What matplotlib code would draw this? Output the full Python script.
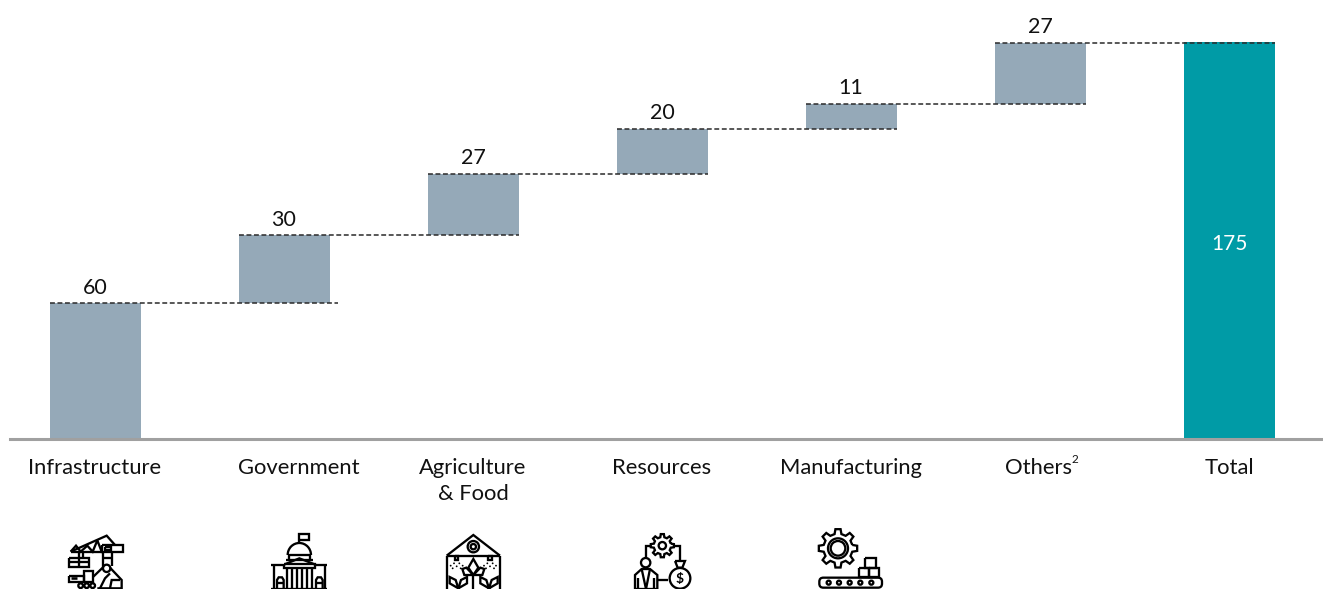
import numpy as np
import matplotlib
matplotlib.use("Agg")
import matplotlib.pyplot as plt
from matplotlib.patches import Circle, FancyBboxPatch, Arc
from matplotlib.transforms import ScaledTranslation

plt.rcParams['font.family'] = ['Lato', 'DejaVu Sans']

categories = ["Infrastructure", "Government", "Agriculture\n& Food", "Resources",
              "Manufacturing", "Others", "Total"]
increments = [60, 30, 27, 20, 11, 27]
total = [175]
label_shift_px = [0, 15, 0, 0, 0, -2, 0]

GREY = "#95a9b8"
TEAL = "#009ba6"
INK = "#111111"
W, H = 1323, 589
PX = 72 / 100

fig = plt.figure(figsize=(W / 100, H / 100), dpi=100, facecolor="white")
ax = fig.add_axes([10 / W, (H - 439) / H, (W - 10) / W, 439 / H])
ax.set_xlim((10 - 95) / 189, (W - 95) / 189)
ax.set_ylim(0, 439 / 2.265)

x = np.arange(len(categories))
tops = np.cumsum(increments)
bottoms = tops - np.array(increments)
bar_w = 91 / 189

ax.bar(x[:-1], increments, bottom=bottoms, width=bar_w, color=GREY, linewidth=0, zorder=2)
ax.bar(x[-1], total, width=bar_w - 2 / 189, color=TEAL, edgecolor=TEAL, linewidth=2 * PX, zorder=2)

# dashed connectors, from the left of one bar to the right of the next
for i, level in enumerate(tops):
    extra = 8 / 189 if i == 0 else 0
    ax.plot([x[i] - bar_w / 2, x[i + 1] + bar_w / 2 + extra], [level, level],
            color="#2a2a2a", lw=1.1, dashes=(3.2, 1.7), zorder=3)

for xi, top, val in zip(x[:-1], tops, increments):
    ax.annotate(str(val), (xi, top), xytext=(0, 4), textcoords="offset points",
                ha="center", va="bottom", fontsize=15.5, color=INK)
ax.annotate(str(total[0]), (x[-1], total[0] * 0.5), xytext=(0, -2), textcoords="offset points",
            ha="center", va="center", fontsize=15, color="white", zorder=4)

for s in ("top", "left", "right"):
    ax.spines[s].set_visible(False)
ax.spines["bottom"].set_color("#a0a0a0")
ax.spines["bottom"].set_linewidth(2.2)
ax.set_yticks([])
ax.set_xticks(x)
ax.set_xticklabels(categories, fontsize=15.8, color=INK, linespacing=1.42)
ax.tick_params(axis="x", length=0, pad=13.5)
for lab, shift in zip(ax.get_xticklabels(), label_shift_px):
    lab.set_transform(lab.get_transform() + ScaledTranslation(shift / 100, 0, fig.dpi_scale_trans))

# ---- pictograms (decoration), pixel overlay ----
ov = fig.add_axes([0, 0, 1, 1], facecolor="none")
ov.set_xlim(0, W)
ov.set_ylim(H, 0)
ov.axis("off")
ov.text(1072, 465, "2", fontsize=8.5, color=INK, ha="left", va="bottom")
LW = 2.3 * PX


def pl(o, pts, lw=LW, close=False):
    a = np.array(pts, float) / 3 + o
    if close:
        a = np.vstack([a, a[0]])
    ov.plot(a[:, 0], a[:, 1], color="black", lw=lw, solid_joinstyle="miter", solid_capstyle="butt")


def box(o, x0, y0, x1, y1, lw=LW):
    pl(o, [(x0, y0), (x1, y0), (x1, y1), (x0, y1)], lw=lw, close=True)


def circ(o, cx, cy, r, lw=LW):
    ov.add_patch(Circle((o[0] + cx / 3, o[1] + cy / 3), r / 3, fill=False, ec="black", lw=lw))


def gear(o, cx, cy, r0, r1, n=8, lw=LW):
    pts = []
    d = 2 * np.pi / n
    for k in range(n):
        c = d * k
        for frac, r in ((-0.30, r0), (-0.17, r1), (0.17, r1), (0.30, r0)):
            a = c + frac * d
            pts.append((cx + r * np.cos(a), cy + r * np.sin(a)))
    pl(o, pts, lw=lw, close=True)


# crane / excavator
o = np.array([60, 525])
pl(o, [(32, 80), (140, 32), (165, 60)])
pl(o, [(32, 80), (125, 80)])
pl(o, [(32, 80), (48, 62), (62, 80), (82, 62), (98, 80), (112, 46), (125, 80)])
box(o, 125, 60, 188, 82)
box(o, 135, 66, 152, 76)
pl(o, [(128, 82), (128, 125)])
pl(o, [(155, 82), (155, 122)])
pl(o, [(128, 100), (155, 100)])
pl(o, [(56, 82), (56, 100)])
pl(o, [(68, 82), (68, 100)])
box(o, 28, 100, 88, 125)
pl(o, [(28, 112), (88, 112)])
pl(o, [(58, 100), (58, 125)])
box(o, 28, 152, 72, 172)
pl(o, [(72, 172), (72, 138), (100, 138), (100, 172), (72, 172)])
pl(o, [(34, 160), (52, 160)], lw=2.6 * PX)
for c in (62, 80, 98):
    circ(o, c, 182, 7)
pl(o, [(100, 155), (128, 128)])
pl(o, [(150, 128), (185, 165), (185, 190), (112, 190)])
circ(o, 140, 130, 11)
pl(o, [(120, 190), (135, 160), (150, 145)])
pl(o, [(150, 190), (155, 165), (180, 165)])

# government building
o = np.array([262, 525])
pl(o, [(112, 55), (112, 28), (140, 28), (140, 45), (112, 45)])
ov.add_patch(Arc(o + np.array([112, 90]) / 3, 70 / 3, 72 / 3, theta1=180, theta2=360, ec="black", lw=LW))
pl(o, [(77, 90), (147, 90)])
pl(o, [(80, 90), (80, 103)])
pl(o, [(145, 90), (145, 103)])
pl(o, [(68, 118), (112, 100), (158, 118)])
pl(o, [(72, 104), (152, 104)])
pl(o, [(66, 118), (160, 118), (160, 130), (66, 130)], close=True)
for c in (75, 90, 105, 120, 135, 150):
    pl(o, [(c, 130), (c, 190)])
pl(o, [(28, 120), (66, 120)])
pl(o, [(160, 120), (196, 120)])
pl(o, [(35, 120), (35, 192)])
pl(o, [(190, 120), (190, 192)])
pl(o, [(28, 192), (196, 192)])
for c in (55, 172):
    pl(o, [(c - 10, 192), (c - 10, 165), (c - 5, 157), (c + 5, 157), (c + 10, 165), (c + 10, 192)])
    pl(o, [(c - 10, 175), (c + 10, 175)])

# greenhouse
o = np.array([435, 525])
pl(o, [(35, 92), (115, 30), (195, 92)])
pl(o, [(35, 92), (195, 92)])
pl(o, [(35, 92), (35, 195)])
pl(o, [(195, 92), (195, 195)])
circ(o, 115, 65, 17)
circ(o, 115, 65, 8)
for c in (65, 165):
    box(o, c - 5, 92, c + 5, 106)
    for dx, dy in ((-18, 122), (-8, 115), (8, 115), (18, 122), (0, 124), (-12, 130), (12, 130)):
        ov.add_patch(Circle(o + np.array([c + dx, dy]) / 3, 0.9, color="black", lw=0))
pl(o, [(115, 150), (115, 195)])
pl(o, [(115, 150), (100, 128), (115, 102), (130, 128), (115, 150)])
pl(o, [(115, 150), (94, 128), (82, 132), (88, 150), (115, 150)])
pl(o, [(115, 150), (136, 128), (148, 132), (142, 150), (115, 150)])
for c in (70, 162):
    pl(o, [(c, 190), (c - 26, 175), (c - 26, 156), (c - 8, 165), (c, 190)])
    pl(o, [(c, 190), (c + 26, 175), (c + 26, 156), (c + 8, 165), (c, 190)])

# resources
o = np.array([625, 525])
gear(o, 112, 62, 26, 35)
circ(o, 112, 62, 11)
pl(o, [(78, 62), (62, 62), (62, 100)])
pl(o, [(146, 62), (165, 62), (165, 108)])
circ(o, 62, 113, 14)
pl(o, [(30, 192), (30, 150), (50, 132), (75, 132), (97, 150), (97, 192), (30, 192)])
pl(o, [(50, 132), (63, 192), (75, 132)])
pl(o, [(40, 192), (40, 160)])
pl(o, [(87, 192), (87, 160)])
pl(o, [(97, 165), (130, 165)])
pl(o, [(150, 108), (180, 108), (172, 128), (158, 128), (150, 108)])
circ(o, 165, 160, 31)
ov.text(*(o + np.array([165, 162]) / 3), "$", fontsize=10, fontweight="bold",
        ha="center", va="center", color="black")

# manufacturing
o = np.array([812, 525])
gear(o, 78, 70, 44, 58)
circ(o, 78, 70, 30)
circ(o, 78, 70, 22)
box(o, 160, 100, 192, 128)
box(o, 140, 128, 172, 156)
box(o, 172, 128, 202, 156)
ov.add_patch(FancyBboxPatch(o + np.array([22, 158]) / 3, 188 / 3, 30 / 3,
                            boxstyle="round,pad=0,rounding_size=4", fill=False, ec="black", lw=LW))
for c in (50, 81, 113, 145, 178):
    circ(o, c, 173, 6)

fig.savefig("out.png", dpi=100, facecolor="white")
